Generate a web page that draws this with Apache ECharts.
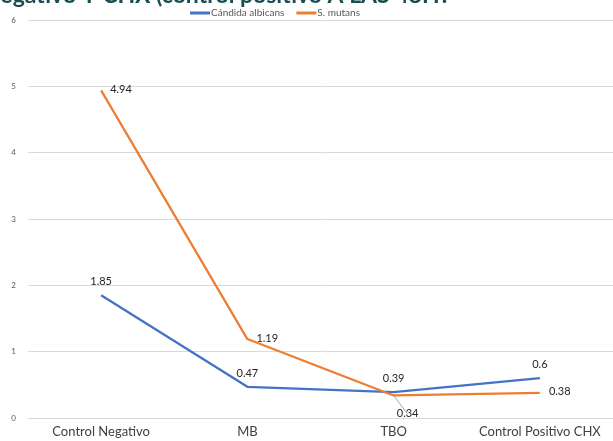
<!DOCTYPE html>
<html>
<head>
<meta charset="utf-8">
<script src="https://cdn.jsdelivr.net/npm/echarts@6/dist/echarts.min.js"></script>
<style>
  html, body { margin: 0; padding: 0; background: #fff; }
  #chart { width: 613px; height: 441px; }
</style>
</head>
<body>
<div id="chart"></div>
<script>
// Categories and series values
const categories = ['Control Negativo', 'MB', 'TBO', 'Control Positivo CHX'];
const candidaValues = [1.85, 0.47, 0.39, 0.6];
const mutansValues = [4.94, 1.19, 0.34, 0.38];
const seriesNames = ['Cándida albicans', 'S. mutans'];
const yTicks = [0, 1, 2, 3, 4, 5, 6];
const titleText = 'Negativo Y CHX (control positivo A LAS 48H?';

const FONT = 'Lato, "Open Sans", "Liberation Sans", sans-serif';

const chart = echarts.init(document.getElementById('chart'), null, { renderer: 'canvas' });

const labelBase = { show: true, color: '#262626', fontSize: 11, fontFamily: FONT };

chart.setOption({
  animation: false,
  backgroundColor: '#ffffff',
  title: {
    text: titleText,
    left: -22,
    top: -21,
    textStyle: { color: '#164e52', fontSize: 23, fontWeight: 'bold', fontFamily: FONT }
  },
  legend: {
    data: seriesNames,
    top: 8,
    left: 190,
    padding: 0,
    icon: 'rect',
    itemWidth: 20,
    itemHeight: 3,
    itemGap: 12,
    textStyle: { color: '#595959', fontSize: 10, fontFamily: FONT, padding: [0, 0, 0, -4] }
  },
  grid: { left: 28, right: -8, top: 20, bottom: 23 },
  xAxis: {
    type: 'category',
    data: categories,
    boundaryGap: true,
    axisLine: { show: true, lineStyle: { color: '#d9d9d9', width: 1 } },
    axisTick: { show: false },
    axisLabel: { color: '#404040', fontSize: 13, fontFamily: FONT, margin: 7, interval: 0 }
  },
  yAxis: {
    type: 'value',
    min: yTicks[0],
    max: yTicks[yTicks.length - 1],
    interval: 1,
    axisLine: { show: false },
    axisTick: { show: false },
    axisLabel: { color: '#595959', fontSize: 8, fontFamily: FONT, margin: 12 },
    splitLine: { lineStyle: { color: '#d9d9d9', width: 1 } }
  },
  series: [
    {
      name: seriesNames[0],
      type: 'line',
      data: candidaValues,
      symbol: 'circle',
      symbolSize: 0,
      showSymbol: true,
      lineStyle: { color: '#4472c4', width: 2.25 },
      itemStyle: { color: '#4472c4' },
      label: Object.assign({}, labelBase, { position: 'top', distance: 8 }),
      z: 2
    },
    {
      name: seriesNames[1],
      type: 'line',
      data: mutansValues.map((v, i) => {
        if (i === 2) {
          return {
            value: v,
            label: { position: 'bottom', distance: 13, offset: [14, 0] },
            labelLine: { show: true, lineStyle: { color: '#a6a6a6', width: 1 } }
          };
        }
        return v;
      }),
      symbol: 'circle',
      symbolSize: 0,
      showSymbol: true,
      lineStyle: { color: '#ed7d31', width: 2.25 },
      itemStyle: { color: '#ed7d31' },
      label: Object.assign({}, labelBase, { position: 'right', distance: 9, offset: [0, -1] }),
      z: 3
    }
  ]
});
</script>
</body>
</html>
